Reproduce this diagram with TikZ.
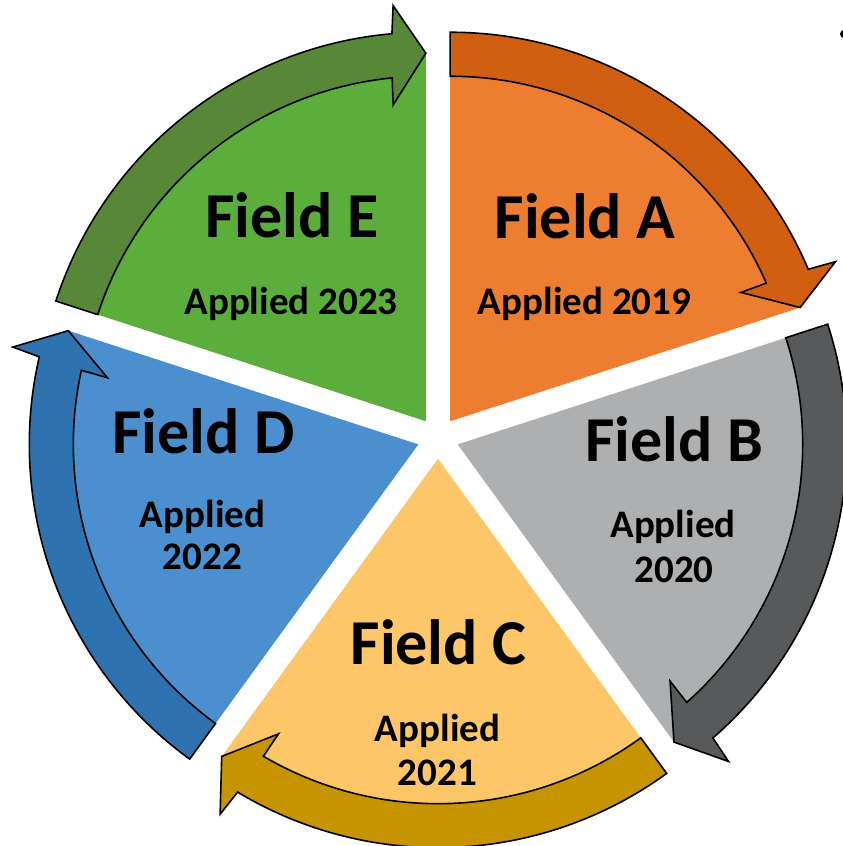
\documentclass[tikz,border=0pt]{standalone}
\usepackage{fontspec}
\setmainfont{Carlito}
\usetikzlibrary{calc}
% segment fills and arrow fills
\definecolor{segA}{HTML}{ED7D31}\definecolor{arrA}{HTML}{D05F12}
\definecolor{segB}{HTML}{AEAFB1}\definecolor{arrB}{HTML}{58595B}
\definecolor{segC}{HTML}{FDC769}\definecolor{arrC}{HTML}{C59400}
\definecolor{segD}{HTML}{4B8FCF}\definecolor{arrD}{HTML}{2E72B0}
\definecolor{segE}{HTML}{5BAD3C}\definecolor{arrE}{HTML}{568838}
\begin{document}
\begin{tikzpicture}[x=1pt,y=1pt,
  title/.style={font=\bfseries\fontsize{64}{70}\selectfont, anchor=base, inner sep=0pt},
  sub/.style={font=\bfseries\fontsize{39}{42}\selectfont, anchor=base, inner sep=0pt},
  cyclearrow/.style={draw=black, line width=1.6pt, line join=miter}]
\useasboundingbox (0,0) rectangle (843,846);
\fill[white] (0,0) rectangle (843,846);
\coordinate (O) at (438,408);
% each segment is pushed out from the centre along its bisector
\foreach \n/\b in {A/54, B/-18, C/-90, D/-162, E/126}
  {\coordinate (apex\n) at ($(O)+(\b:20.7)$);}
% pie segments
\foreach \n/\b in {A/54, B/-18, C/-90, D/-162, E/126}{
  \begin{scope}[shift={(apex\n)}]
    \fill[seg\n] (0,0) -- (\b+36:369) arc[start angle=\b+36, end angle=\b-36, radius=369pt] -- cycle;
  \end{scope}}
% curved arrows running clockwise along each segment
\foreach \n/\b in {A/54, B/-18, C/-90, D/-162, E/126}{
  \begin{scope}[shift={(apex\n)}]
    \pgfmathsetmacro\s{\b+36}\pgfmathsetmacro\e{\b-36}
    \filldraw[cyclearrow, fill=arr\n] (\s:389) arc[start angle=\s, end angle=\e+5.0, radius=389pt]
      -- (\e+4.5:417) -- (\e:368) -- (\e+5.9:318) -- (\e+5.6:345)
      arc[start angle=\e+5.6, end angle=\s, radius=345pt] -- cycle;
  \end{scope}}
% labels
\node[title] (tA) at (585,607.7) {Field A};
\node[sub]   (sA) at (584.5,531) {Applied 2019};
\node[title] (tB) at (674,384.3) {Field B};
\node[sub]   (sB1) at (673,308) {Applied};
\node[sub]   (sB2) at (674,263.3) {2020};
\node[title] (tC) at (438.5,181) {Field C};
\node[sub]   (sC1) at (437.5,104.3) {Applied};
\node[sub]   (sC2) at (437.5,60) {2021};
\node[title] (tD) at (203.3,392) {Field D};
\node[sub]   (sD1) at (202.5,318) {Applied};
\node[sub]   (sD2) at (202.3,276) {2022};
\node[title] (tE) at (291.7,608) {Field E};
\node[sub]   (sE) at (291,531) {Applied 2023};
% stray bullet at the top-right edge
\fill (844,812) circle (4);
\end{tikzpicture}
\end{document}
